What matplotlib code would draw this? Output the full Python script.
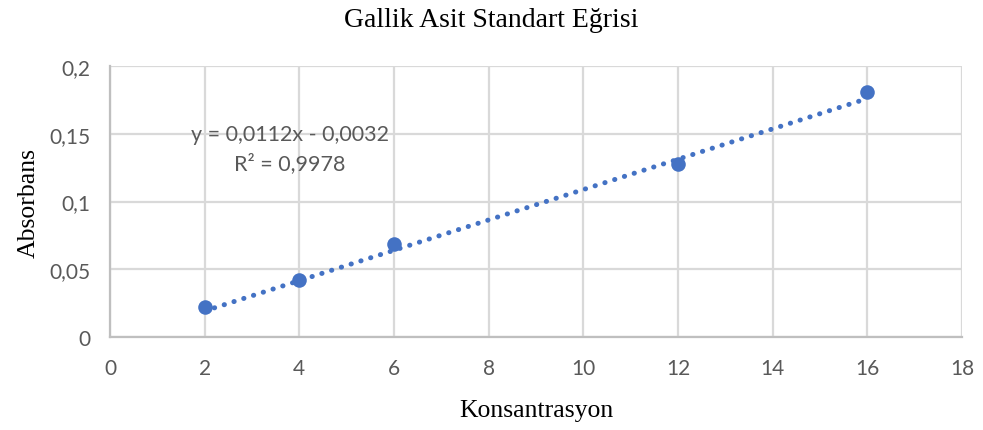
import matplotlib
matplotlib.use("Agg")
from matplotlib import pyplot as plt

# veri
konsantrasyon = [2, 4, 6, 12, 16]
absorbans = [0.022, 0.042, 0.069, 0.128, 0.181]
egim = 0.0112
kesim = -0.0032
x_ticks = list(range(0, 20, 2))
y_ticks = [0, 0.05, 0.1, 0.15, 0.2]
y_tick_labels = ["0", "0,05", "0,1", "0,15", "0,2"]

mavi = "#4472C4"
gri_yazi = "#595959"
grid_renk = "#D9D9D9"
etiket_font = "Lato"

fig = plt.figure(figsize=(9.83, 4.31), dpi=100)
ax = fig.add_axes([0.1119, 0.2158, 0.8667, 0.6287])

# trend cizgisi
tx = [konsantrasyon[0], konsantrasyon[-1]]
ty = [egim * x + kesim for x in tx]
ax.plot(tx, ty, color=mavi, linewidth=3.6, linestyle=(0, (0.05, 2.0)),
        dash_capstyle="round", solid_capstyle="round", zorder=3)

ax.scatter(konsantrasyon, absorbans, s=110, color=mavi, zorder=4, linewidths=0)

ax.set_xlim(0, 18)
ax.set_ylim(0, 0.2)
ax.set_xticks(x_ticks)
ax.set_yticks(y_ticks)
ax.set_yticklabels(y_tick_labels)
ax.grid(True, color=grid_renk, linewidth=1.6)
ax.set_axisbelow(True)
for s in ["top", "right"]:
    ax.spines[s].set_visible(False)
for s in ["left", "bottom"]:
    ax.spines[s].set_color("#BFBFBF")
    ax.spines[s].set_linewidth(1.6)
ax.tick_params(length=0, labelsize=15, labelcolor=gri_yazi)
ax.tick_params(axis="x", pad=15)
ax.tick_params(axis="y", pad=14)
for lbl in ax.get_xticklabels() + ax.get_yticklabels():
    lbl.set_fontfamily(etiket_font)

ax.text(3.8, 0.1498, "y = 0,0112x - 0,0032", ha="center", va="center",
        fontsize=15.5, color=gri_yazi, family=etiket_font)
ax.text(3.8, 0.1290, "R² = 0,9978", ha="center", va="center",
        fontsize=15.5, color=gri_yazi, family=etiket_font)

fig.text(0.5, 0.952, "Gallik Asit Standart Eğrisi", ha="center", va="center",
         fontsize=20, family="Liberation Serif")
ax.set_xlabel("Konsantrasyon", fontsize=18.5, family="Liberation Serif", labelpad=15)
ax.set_ylabel("Absorbans", fontsize=18.5, family="Liberation Serif", labelpad=7)

fig.savefig("out.png", dpi=100)
